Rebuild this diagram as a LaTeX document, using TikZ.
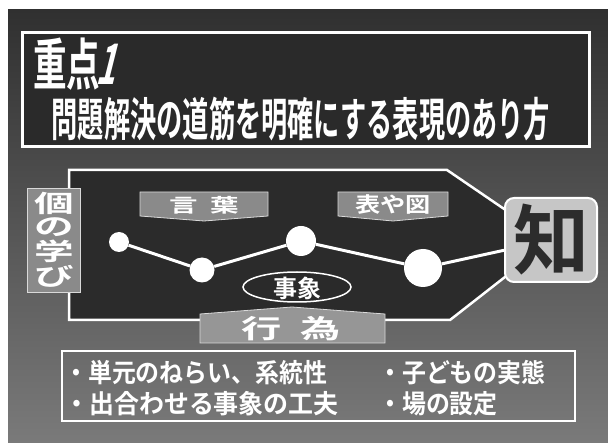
\documentclass[tikz,border=0pt]{standalone}
\usepackage{fontspec}
\newfontfamily\cjk{Noto Sans CJK JP}[BoldFont={Noto Sans CJK JP Bold}]
\usetikzlibrary{shapes.geometric}
\definecolor{bgtop}{HTML}{303030}
\definecolor{bgbot}{HTML}{7A7A7A}
\definecolor{panel}{HTML}{2A2A2A}
\definecolor{labfill}{HTML}{8A8A8A}
\definecolor{chifill}{HTML}{C6C6C6}
\definecolor{chitext}{HTML}{2C2C2C}
\tikzset{
  frameline/.style={draw=white, line width=2.5pt, line join=miter},
  dotnode/.style={circle, fill=white, inner sep=0pt},
  link/.style={draw=white, line width=3pt},
  labbox/.style={draw=white!85!black, line width=0.8pt, fill=labfill},
  wtext/.style={text=white, inner sep=0pt, font=\cjk\bfseries},
}
\begin{document}
\begin{tikzpicture}[x=1pt,y=-1pt]
\useasboundingbox (0,0) rectangle (608,443);
\fill[white] (0,0) rectangle (608,443);
\shade[top color=bgtop, bottom color=bgbot] (8,10) rectangle (608,443);
% title box
\draw[draw=white, line width=3pt, fill=panel] (22,33) rectangle (589,147);
\node[wtext, anchor=west] (t1) at (33,64) {\fontsize{56}{56}\selectfont\scalebox{0.6}[1]{重点}};
\node[wtext, anchor=west, xslant=0.25, transform shape] (t1n) at (100,64) {\fontsize{56}{56}\selectfont\scalebox{0.6}[1]{1}};
\node[wtext] (t2) at (301,119) {\fontsize{46}{46}\selectfont\scalebox{0.57}[1]{問題解決の道筋を明確にする表現のあり方}};
% diagram frame
\draw[frameline, fill=panel!80!bgtop] (69,170) -- (447,170) -- (551,241) -- (450,320) -- (69,320) -- cycle;
% labels
\draw[labbox] (140,192) -- (268,192) -- (268,216) -- (204,221) -- (140,216) -- cycle;
\node[wtext] (kotoba) at (204,205) {\fontsize{19}{19}\selectfont\scalebox{1.5}[1]{言\hspace{0.45em}葉}};
\draw[labbox] (338,192) -- (448,192) -- (448,216) -- (393,221) -- (338,216) -- cycle;
\node[wtext] (hyozu) at (393,205) {\fontsize{21}{21}\selectfont\scalebox{1.2}[1]{表や図}};
\draw[labbox, fill=labfill!90!white] (200,314) -- (292,307) -- (385,314) -- (385,343) -- (200,343) -- cycle;
\node[wtext] (koi) at (291,329) {\fontsize{26}{26}\selectfont\scalebox{1.55}[1]{行\hspace{0.45em}為}};
% individual learning box
\node[labbox, minimum width=53pt, minimum height=104pt, inner sep=0pt] (kobox) at (54,240) {};
\node[wtext] (kotext) at (54,240) {\scalebox{1.65}[1]{\shortstack{\fontsize{24}{25}\selectfont 個\\ \fontsize{24}{25}\selectfont の\\ \fontsize{24}{25}\selectfont 学\\ \fontsize{24}{25}\selectfont び}}};
% chi box
\node[draw=white, line width=2pt, fill=chifill, rounded corners=9pt, minimum width=92pt, minimum height=84pt, inner sep=0pt, text=chitext, font=\cjk\bfseries] (chi) at (551,240) {\fontsize{76}{76}\selectfont 知};
% event ellipse
\node[ellipse, draw=white, line width=1.5pt, fill=panel, minimum width=108pt, minimum height=30pt, inner sep=0pt] (jisho) at (297,287) {};
\node[wtext] (jtext) at (297,288) {\fontsize{24}{24}\selectfont 事象};
% dots and links
\node[dotnode, minimum size=20pt] (c1) at (119,242) {};
\node[dotnode, minimum size=25pt] (c2) at (202,270) {};
\node[dotnode, minimum size=30pt] (c3) at (301,241) {};
\node[dotnode, minimum size=38pt] (c4) at (423,268) {};
\draw[link] (c1) -- (c2);
\draw[link] (c2) -- (c3);
\draw[link] (c3) -- (c4);
\draw[link] (c4) -- (chi);
% bottom box
\draw[draw=white, line width=2pt] (62,351) rectangle (575,421);
\node[wtext, anchor=west] (b1) at (64,373) {\fontsize{26}{26}\selectfont\scalebox{0.92}[1]{・単元のねらい、系統性}};
\node[wtext, anchor=west] (b2) at (378,373) {\fontsize{26}{26}\selectfont\scalebox{0.92}[1]{・子どもの実態}};
\node[wtext, anchor=west] (b3) at (64,404) {\fontsize{26}{26}\selectfont\scalebox{0.96}[1]{・出合わせる事象の工夫}};
\node[wtext, anchor=west] (b4) at (378,404) {\fontsize{26}{26}\selectfont\scalebox{0.92}[1]{・場の設定}};
\end{tikzpicture}
\end{document}
